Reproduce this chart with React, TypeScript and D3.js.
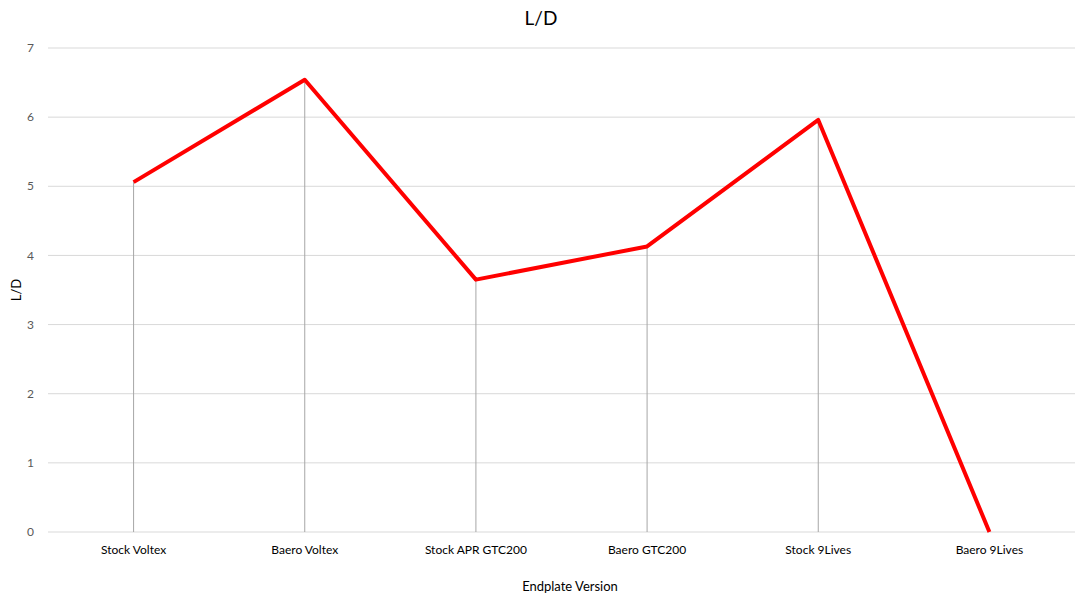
import React from "react";
import * as d3 from "d3";

const categories = ["Stock Voltex", "Baero Voltex", "Stock APR GTC200", "Baero GTC200", "Stock 9Lives", "Baero 9Lives"];
const ldValues = [5.06, 6.54, 3.65, 4.13, 5.96, 0];
const yTicks = [0, 1, 2, 3, 4, 5, 6, 7];

const W = 1077, H = 593;
const left = 48, right = 1075, top = 48, bottom = 532;
const font = "Lato, 'Open Sans', sans-serif";

export default function App() {
  const x = d3.scaleBand<string>().domain(categories).range([left, right]);
  const y = d3.scaleLinear().domain([0, 7]).range([bottom, top]);
  const cx = (c: string) => (x(c) as number) + x.bandwidth() / 2;
  const line = d3.line<number>().x((_, i) => cx(categories[i])).y(v => y(v));
  return (
    <svg width={W} height={H} style={{ position: "absolute", left: 0, top: 0, background: "#fff" }}>
      <rect width={W} height={H} fill="#fff" />
      {yTicks.map(t => (
        <g key={t}>
          <line x1={left} x2={right} y1={y(t)} y2={y(t)} stroke="#d9d9d9" strokeWidth={1} />
          <text x={34} y={y(t)} dy="0.35em" textAnchor="end" fontSize={12} fill="#595959" fontFamily={font}>{t}</text>
        </g>
      ))}
      {categories.map((c, i) => (
        <g key={c}>
          <line x1={cx(c)} x2={cx(c)} y1={y(ldValues[i])} y2={y(0)} stroke="#a6a6a6" strokeWidth={1} />
          <text x={cx(c)} y={554} textAnchor="middle" fontSize={12} fill="#000" fontFamily={font}>{c}</text>
        </g>
      ))}
      <path d={line(ldValues) || ""} fill="none" stroke="#ff0000" strokeWidth={4} strokeLinejoin="round" />
      <text x={541} y={25} textAnchor="middle" fontSize={19} fill="#000" fontFamily={font}>L/D</text>
      <text x={570} y={591} textAnchor="middle" fontSize={13} fill="#000" fontFamily={font}>Endplate Version</text>
      <text transform={`translate(21,${(top + bottom) / 2}) rotate(-90)`} textAnchor="middle" fontSize={13} fill="#000" fontFamily={font}>L/D</text>
    </svg>
  );
}
